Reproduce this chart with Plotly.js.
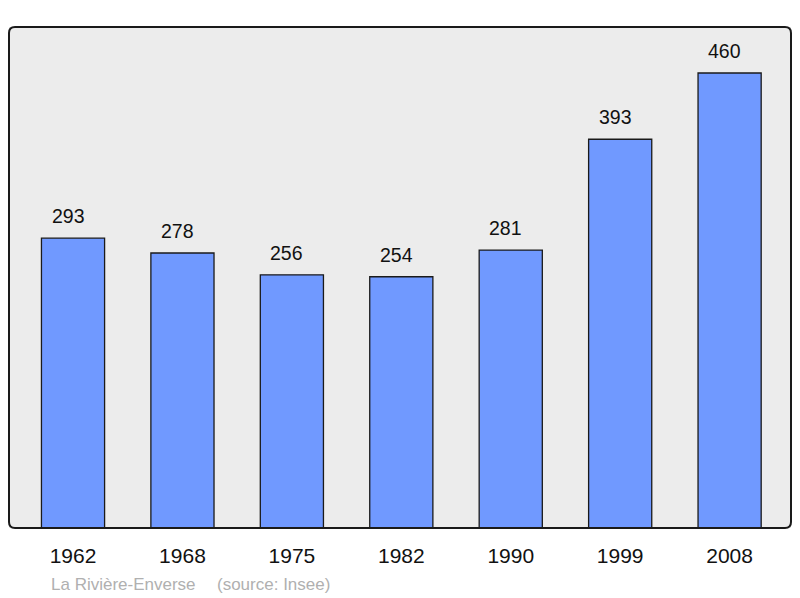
<!DOCTYPE html>
<html><head><meta charset="utf-8">
<script src="https://cdn.plot.ly/plotly-3.0.1.min.js"></script>
<style>html,body{margin:0;padding:0;background:#fff}</style>
</head><body>
<div id="chart" style="width:800px;height:598px"></div>
<script>
const years = ["1962","1968","1975","1982","1990","1999","2008"];
const population = [293,278,256,254,281,393,460];
const placeName = "La Rivière-Enverse";
const sourceText = "(source: Insee)";

const W = 782, H = 501, r = 6;
const rx = r / W, ry = r / H;
const boxPath = `M ${rx} 0 L ${1-rx} 0 Q 1 0 1 ${ry} L 1 ${1-ry} Q 1 1 ${1-rx} 1 L ${rx} 1 Q 0 1 0 ${1-ry} L 0 ${ry} Q 0 0 ${rx} 0 Z`;

const trace = {
  type: 'bar', x: years, y: population,
  marker: {color: '#7099ff', line: {color: '#1a1a1a', width: 1.3}},
  width: 0.577, hoverinfo: 'none'
};

const FONT = 'Liberation Sans, Arial, sans-serif';
const annotations = years.map((yr, i) => ({
  x: i, y: population[i], xref: 'x', yref: 'y', text: String(population[i]),
  showarrow: false, yshift: 22, xshift: -5, font: {family: FONT, size: 19.5, color: '#111'}
}));
annotations.push({
  xref: 'paper', yref: 'paper', x: (49-9)/W, y: -(584-528)/H, xanchor: 'left', yanchor: 'middle',
  text: placeName, showarrow: false, font: {family: FONT, size: 17, color: '#b0b0b0'}
});
annotations.push({
  xref: 'paper', yref: 'paper', x: (215-9)/W, y: -(584-528)/H, xanchor: 'left', yanchor: 'middle',
  text: sourceText, showarrow: false, font: {family: FONT, size: 17, color: '#b0b0b0'}
});

const layout = {
  width: 800, height: 598,
  margin: {l: 9, r: 9, t: 27, b: 70},
  paper_bgcolor: '#ffffff', plot_bgcolor: '#ececec',
  showlegend: false,
  xaxis: {type: 'category', range: [-0.585, 6.561], showgrid: false, zeroline: false, showline: false,
    ticks: 'outside', ticklen: 9, tickcolor: 'rgba(0,0,0,0)',
    tickfont: {family: FONT, size: 21, color: '#111'}, fixedrange: true},
  yaxis: {range: [0, 506.5], showgrid: false, zeroline: false, showline: false, showticklabels: false, ticks: '', fixedrange: true},
  shapes: [{type: 'path', xref: 'paper', yref: 'paper', path: boxPath, line: {color: '#1a1a1a', width: 2}, fillcolor: 'rgba(0,0,0,0)', layer: 'above'}],
  annotations: annotations
};

Plotly.newPlot('chart', [trace], layout, {staticPlot: true, displayModeBar: false});
</script>
</body></html>
